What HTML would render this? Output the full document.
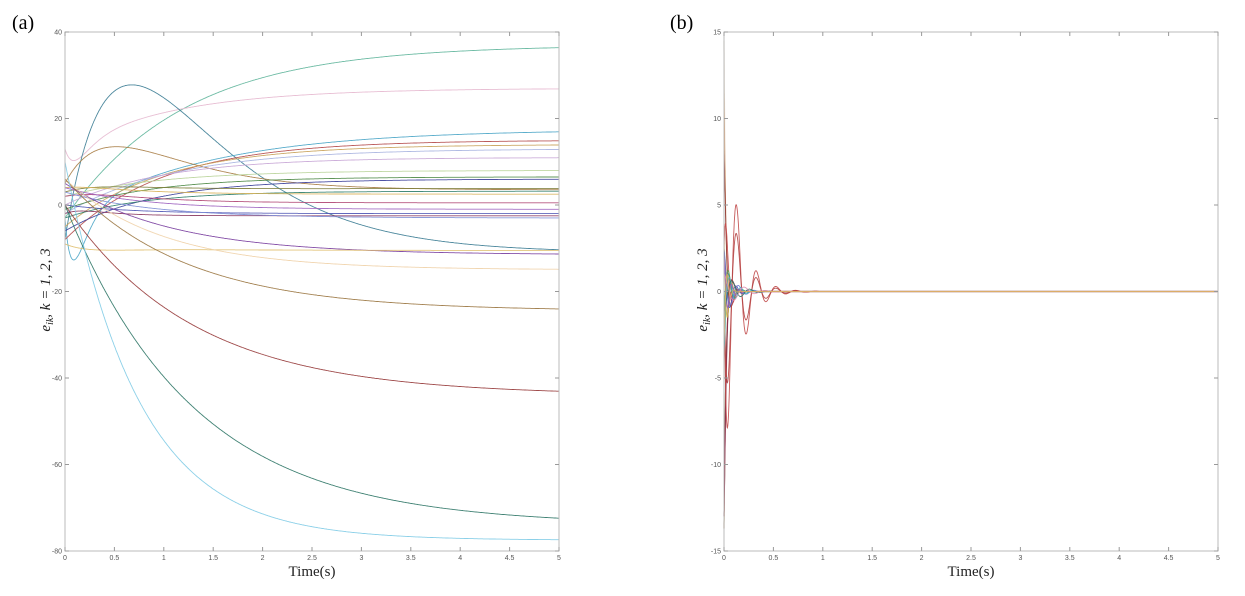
<!DOCTYPE html>
<html><head><meta charset="utf-8"><style>
html,body{margin:0;padding:0;background:#fff;}
svg text{font-family:"Liberation Sans",sans-serif;}
.t{font-size:7px;fill:#555;}
.s{font-family:"Liberation Serif",serif !important;}
</style></head><body>
<svg id="svg" width="1245" height="591" viewBox="0 0 1245 591" xmlns="http://www.w3.org/2000/svg">
<rect width="1245" height="591" fill="#fff"/>
<text x="12" y="29" class="s" font-size="20" fill="#000">(a)</text>
<text x="670" y="29" class="s" font-size="20" fill="#000">(b)</text>
<g id="L"></g><g id="R"></g>
<g id="axes"></g>
<text x="312" y="576" class="s" font-size="15" text-anchor="middle" fill="#222">Time(s)</text>
<text x="971" y="576" class="s" font-size="15" text-anchor="middle" fill="#222">Time(s)</text>
<text transform="translate(50,290) rotate(-90)" class="s" font-size="15" text-anchor="middle" fill="#222" font-style="italic">e<tspan font-size="10" dy="3">ik</tspan><tspan dy="-3">, k = 1, 2, 3</tspan></text>
<text transform="translate(707,290) rotate(-90)" class="s" font-size="15" text-anchor="middle" fill="#222" font-style="italic">e<tspan font-size="10" dy="3">ik</tspan><tspan dy="-3">, k = 1, 2, 3</tspan></text>
</svg>
<script>
var NS="http://www.w3.org/2000/svg";
function el(p,n,a,txt){var e=document.createElementNS(NS,n);for(var k in a)e.setAttribute(k,a[k]);if(txt!=null)e.textContent=txt;p.appendChild(e);return e;}
var ax=document.getElementById('axes');
function axes(x0,x1,y0,y1,ymax,ymin,ystep){
 el(ax,'rect',{x:x0,y:y0,width:x1-x0,height:y1-y0,fill:'none',stroke:'#bbb','stroke-width':1});
 for(var i=0;i<=10;i++){var x=x0+(x1-x0)*i/10;
  el(ax,'line',{x1:x,x2:x,y1:y1,y2:y1-4,stroke:'#999'});el(ax,'line',{x1:x,x2:x,y1:y0,y2:y0+4,stroke:'#999'});
  el(ax,'text',{x:x,y:y1+9,'text-anchor':'middle','class':'t'},String(i/2));}
 for(var v=ymin;v<=ymax;v+=ystep){var y=y0+(ymax-v)/(ymax-ymin)*(y1-y0);
  el(ax,'line',{x1:x0,x2:x0+4,y1:y,y2:y,stroke:'#999'});el(ax,'line',{x1:x1,x2:x1-4,y1:y,y2:y,stroke:'#999'});
  el(ax,'text',{x:x0-3,y:y+2.5,'text-anchor':'end','class':'t'},String(v));}
}
axes(65,559,32,551,40,-80,20);
axes(724,1218,32,551,15,-15,5);
function draw(g,x0,x1,y0,y1,ymax,ymin,f,col,w){
 var pts=[];for(var i=0;i<=700;i++){var t=5*Math.pow(i/700,1.6);var v=f(t);
  pts.push((x0+(x1-x0)*t/5).toFixed(1)+','+(y0+(ymax-v)/(ymax-ymin)*(y1-y0)).toFixed(1));}
 el(g,'polyline',{points:pts.join(' '),fill:'none',stroke:col,'stroke-width':w||0.9,opacity:0.9});
}
var L=document.getElementById('L');
function ex(a,b,tau,c,tc){return function(t){return b+(a-b)*Math.exp(-t/tau)+(c||0)*t*Math.exp(-t/(tc||0.3));};}
var cl=[
 [ex(-3,37,1.2),'#5fb59b'],
 [ex(13,27,1.1,-90,0.12),'#e6b8cf'],
 [function(t){return -11*(1-Math.exp(-t/0.8))-8*Math.exp(-t/0.3)+132*t*Math.exp(-t/0.72);},'#3b7c94'],
 [ex(-3,17.5,1.4,-300,0.1),'#4aa5c6'],
 [ex(5,3.5,1.0,45,0.55),'#a87d45'],
 [ex(-8,15,1.0),'#b44a4a'],
 [ex(-5,14,1.0),'#c9a25a'],
 [ex(-2,13,1.1),'#a9b4e0'],
 [ex(0,11,1.0),'#c8a6d6'],
 [ex(2,8,1.0),'#b9d49a'],
 [ex(-1,6.5,0.9),'#4e8a46'],
 [ex(-6,6,0.9),'#3b3f9a'],
 [ex(3,3.8,0.9,6,0.4),'#7d7d3a'],
 [ex(-3,3.2,0.8),'#2f7e6a'],
 [ex(4,2.5,0.8,4,0.3),'#d8b35a'],
 [ex(2,0.5,0.8,6,0.4),'#b04573'],
 [ex(4,-1,0.8),'#9d63c0'],
 [ex(0,-2,0.7),'#5056b5'],
 [ex(-2,-2.5,0.6,10,0.2),'#8a3860'],
 [ex(3,-3,0.9),'#7f8fd6'],
 [ex(5,-11.5,1.1),'#7a3fa0'],
 [ex(-9,-10.5,0.8,-8,0.3),'#e0c070'],
 [ex(6,-15,1.0),'#f0d2a8'],
 [ex(6,-24.5,1.2),'#9a7540'],
 [ex(0,-44,1.3),'#963838'],
 [ex(0,-74,1.3),'#2e7566'],
 [ex(10,-77.5,0.75),'#7fcbe6']
];
cl.forEach(function(c){draw(L,65,559,32,551,40,-80,c[0],c[1]);});
var R=document.getElementById('R');
function ds(A,tau,w,ph){return function(t){return A*Math.exp(-t/tau)*Math.cos(w*t+ph);};}
var rc=[
 [ds(14.5,0.015,10,0),'#e6d9c8',1.2],
 [ds(-13.7,0.02,20,0),'#9a7540',1.2],
 [ds(-13,0.03,30,0),'#8a2a4a',1.2],
 [ds(11.8,0.025,40,0),'#d9a070'],
 [ds(8.3,0.035,35,0),'#8a3030'],
 [ds(6.6,0.04,45,-1.2),'#c84848'],
 [function(t){return (1-Math.exp(-t/0.02))*12.4*Math.exp(-t/0.14)*Math.cos(31.4*(t-0.13));},'#c04848'],
 [function(t){return (1-Math.exp(-t/0.02))*8.3*Math.exp(-t/0.14)*Math.cos(31.4*(t-0.13));},'#b04040'],
 [ds(-3.5,0.04,60,0),'#3aa0a0'],
 [ds(3.6,0.04,70,0.5),'#c9b040'],
 [ds(2.5,0.06,50,0),'#4a56b0'],
 [ds(-2.5,0.06,45,1),'#50a050'],
 [ds(1.5,0.1,40,0.3),'#6a7ad0'],
 [ds(-1.5,0.09,55,0),'#40b0c0'],
 [ds(2,0.05,80,0),'#9d63c0'],
 [ds(-1.2,0.12,35,0.2),'#2e7566'],
 [ds(1,0.15,30,0),'#e090b0'],
 [ds(-3,0.03,90,0),'#ddb060']
];
rc.forEach(function(c){draw(R,724,1218,32,551,15,-15,c[0],c[1],c[2]);});
</script>
</body></html>
